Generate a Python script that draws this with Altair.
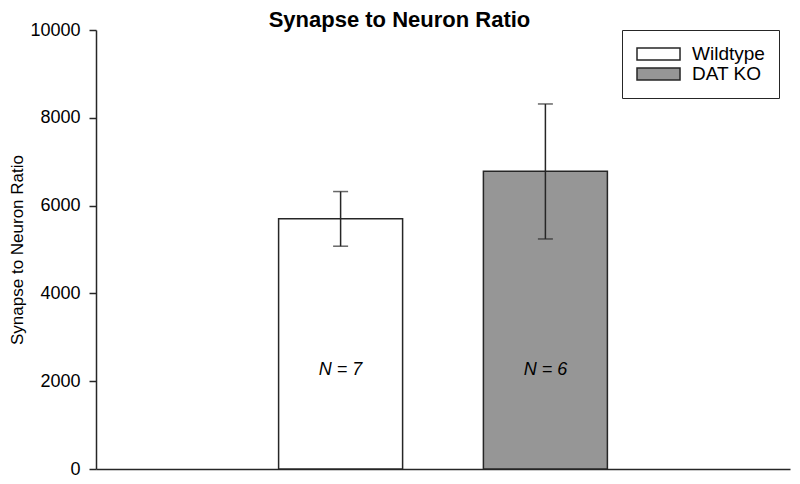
import altair as alt
import pandas as pd

groups = ["Wildtype", "DAT KO"]
positions = [1, 2]
means = [5700, 6780]
err_low = [5075, 5240]
err_high = [6320, 8315]
n_labels = ["N = 7", "N = 6"]
fill_colors = ["#ffffff", "#969696"]
y_ticks = [0, 2000, 4000, 6000, 8000, 10000]

df = pd.DataFrame({
    "group": groups,
    "pos": positions,
    "mean": means,
    "low": err_low,
    "high": err_high,
    "nlab": n_labels,
})

FONT = "Liberation Sans"
INK = "#262626"

xenc = alt.X(
    "pos:Q",
    scale=alt.Scale(domain=[-0.17, 3.17], nice=False, zero=False),
    axis=alt.Axis(title=None, labels=False, ticks=False, grid=False,
                  domainColor=INK, domainWidth=1.5),
)
yscale = alt.Scale(domain=[0, 10000], nice=False)

base = alt.Chart(df)

bars = base.mark_bar(size=124, stroke=INK, strokeWidth=1.5).encode(
    x=xenc,
    y=alt.Y(
        "mean:Q",
        scale=yscale,
        axis=alt.Axis(
            values=y_ticks, format="d", grid=False,
            tickSize=7, tickWidth=1.5, tickColor=INK,
            domainColor=INK, domainWidth=1.5,
            labelFontSize=18, labelColor="black", labelPadding=9,
            title="Synapse to Neuron Ratio", titleFontSize=17,
            titleFontWeight="normal", titleColor="black", titlePadding=3,
        ),
    ),
    color=alt.Color(
        "group:N",
        scale=alt.Scale(domain=groups, range=fill_colors),
        legend=alt.Legend(
            title=None, orient="none", legendX=526, legendY=0,
            strokeColor=INK, fillColor="white", padding=14, cornerRadius=0,
            symbolType="M-1,-0.667L3.78,-0.667L3.78,0.667L-1,0.667Z",
            symbolSize=324,
            symbolStrokeColor=INK, symbolStrokeWidth=1.5,
            labelFontSize=19, labelColor="black", labelOffset=36,
            rowPadding=0,
        ),
    ),
)

rules = base.mark_rule(color=INK, strokeWidth=1.5).encode(
    x="pos:Q",
    y=alt.Y("low:Q", scale=yscale),
    y2="high:Q",
)

caps = base.transform_fold(["low", "high"], as_=["end", "val"]).mark_tick(
    orient="horizontal", size=15, thickness=1.5, color=INK
).encode(
    x="pos:Q",
    y=alt.Y("val:Q", scale=yscale),
)

labels = base.mark_text(fontSize=18, fontStyle="italic", color="black").encode(
    x="pos:Q",
    y=alt.datum(2250),
    text="nlab:N",
)

chart = alt.layer(bars, rules, caps, labels).properties(
    width=694,
    height=439,
    title=alt.Title("Synapse to Neuron Ratio", fontSize=22, fontWeight="bold",
                    anchor="middle", frame="bounds", color="black", offset=6, dy=17),
    autosize=alt.AutoSizeParams(type="none"),
    padding={"left": 88, "top": 22, "right": 2, "bottom": 8},
).configure(font=FONT).configure_view(stroke=None)

chart.save("out.html", embed_options={"renderer": "svg", "actions": False})
